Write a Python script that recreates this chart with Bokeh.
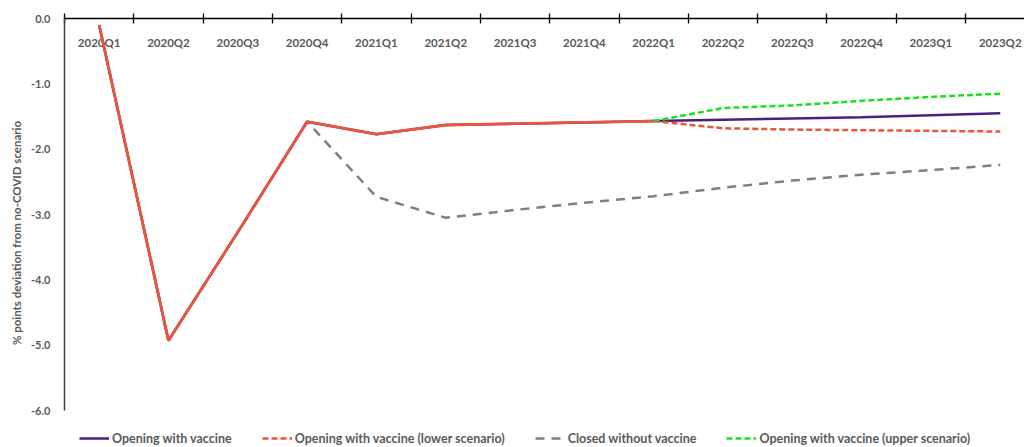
from bokeh.plotting import figure
from bokeh.models import Range1d, FixedTicker, PrintfTickFormatter, Legend, LegendItem
from bokeh.core.properties import value
from bokeh.embed import file_html
from bokeh.resources import INLINE

categories = ["2020Q1", "2020Q2", "2020Q3", "2020Q4", "2021Q1", "2021Q2", "2021Q3",
              "2021Q4", "2022Q1", "2022Q2", "2022Q3", "2022Q4", "2023Q1", "2023Q2"]
y_ticks = [-6.0, -5.0, -4.0, -3.0, -2.0, -1.0, 0.0]

opening_vaccine = [-0.10, -4.93, -3.27, -1.58, -1.77, -1.63, -1.61, -1.59, -1.57,
                   -1.55, -1.53, -1.51, -1.48, -1.45]
opening_lower = [-0.10, -4.93, -3.27, -1.58, -1.77, -1.63, -1.61, -1.59, -1.57,
                 -1.68, -1.70, -1.71, -1.72, -1.73]
closed_no_vaccine = [-0.10, -4.93, -3.27, -1.58, -2.73, -3.05, -2.93, -2.82, -2.72,
                     -2.59, -2.48, -2.39, -2.32, -2.24]
opening_upper = [-0.10, -4.93, -3.27, -1.58, -1.77, -1.63, -1.61, -1.59, -1.57,
                 -1.37, -1.33, -1.26, -1.20, -1.15]
history_end = "2022Q1"

names = ["Opening with vaccine", "Opening with vaccine (lower scenario)",
         "Closed without vaccine", "Opening with vaccine (upper scenario)"]

FONT = "Lato"
GREY = "#595959"

xs = [i + 1 for i in range(len(categories))]
h = categories.index(history_end)
bounds = [0.5 + i for i in range(len(categories) + 1)]

p = figure(width=1024, height=447, x_range=Range1d(0.5, 14.35), y_range=Range1d(-6.566, 0),
           x_axis_location="above", output_backend="svg", toolbar_location=None,
           min_border_left=64, min_border_top=18, min_border_right=0, min_border_bottom=0)
p.grid.visible = False
p.outline_line_color = None

# x axis on top at y = 0, ticks at category boundaries
xa = p.xaxis[0]
xa.ticker = FixedTicker(ticks=bounds)
xa.major_label_overrides = {b: "" for b in bounds}
xa.major_label_text_font_size = "8px"
xa.major_label_standoff = 0
xa.major_tick_in = 5
xa.major_tick_out = 5
xa.minor_tick_line_color = None
xa.axis_line_color = "#000000"
xa.axis_line_width = 1.3
xa.major_tick_line_color = "#000000"
xa.major_tick_line_width = 1.3

ya = p.yaxis[0]
ya.ticker = FixedTicker(ticks=y_ticks)
ya.bounds = (min(y_ticks), max(y_ticks))
ya.formatter = PrintfTickFormatter(format="%.1f")
ya.major_tick_in = 0
ya.major_tick_out = 0
ya.minor_tick_line_color = None
ya.major_label_standoff = 14
ya.axis_line_color = "#404040"
ya.axis_line_width = 1.5
ya.major_label_text_font = FONT
ya.major_label_text_font_style = "bold"
ya.major_label_text_font_size = "11px"
ya.major_label_text_color = GREY
ya.axis_label = "% points deviation from no-COVID scenario"
ya.axis_label_text_font = FONT
ya.axis_label_text_font_style = "bold"
ya.axis_label_text_font_size = "11.5px"
ya.axis_label_text_color = GREY
ya.axis_label_standoff = 5

# category labels just under the top axis
p.text(x=xs, y=[0] * len(xs), text=categories, y_offset=24, text_align="center",
       text_baseline="middle", text_font=value(FONT), text_font_style="bold",
       text_font_size="11.5px", text_color=GREY)

r_closed = p.line(xs, closed_no_vaccine, line_color="#7F7F7F", line_width=2.5, line_dash="9 7")
r_open = p.line(xs, opening_vaccine, line_color="#4B1F7F", line_width=2.5)
p.line(xs[:h + 1], opening_lower[:h + 1], line_color="#EA553F", line_width=2.8)
r_lower = p.line(xs[h:], opening_lower[h:], line_color="#EA553F", line_width=2.5, line_dash="6 3")
r_upper = p.line(xs[h:], opening_upper[h:], line_color="#1EE01E", line_width=2.5, line_dash="6 3")

legend = Legend(items=[LegendItem(label=names[0], renderers=[r_open]),
                       LegendItem(label=names[1], renderers=[r_lower]),
                       LegendItem(label=names[2], renderers=[r_closed]),
                       LegendItem(label=names[3], renderers=[r_upper])],
                orientation="horizontal", location=(15, 0), spacing=30, glyph_width=30,
                glyph_height=18, label_standoff=3, label_text_font=FONT,
                label_text_font_style="bold", label_text_font_size="12.5px",
                label_text_color=GREY, padding=0, margin=0, border_line_color=None,
                background_fill_alpha=0)
p.add_layout(legend, "center")

open("out.html", "w").write(file_html(p, INLINE))
